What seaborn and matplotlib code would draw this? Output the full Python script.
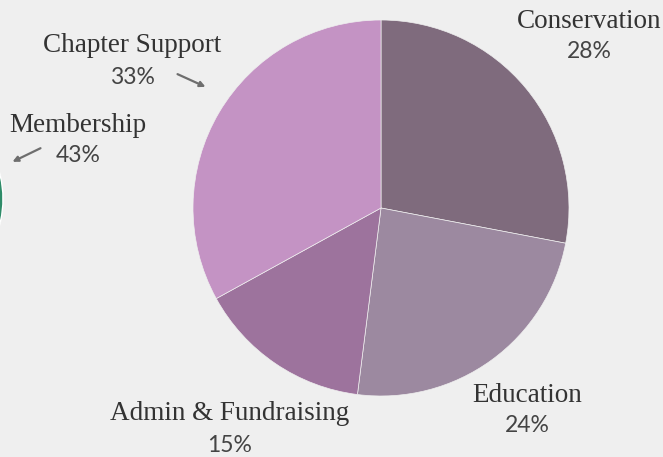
import seaborn as sns
import matplotlib.pyplot as plt

# main pie, clockwise from 12 o'clock
labels = ["Conservation", "Education", "Admin & Fundraising", "Chapter Support"]
values = [28, 24, 15, 33]
colors = ["#7f6b7d", "#9c89a0", "#9d739d", "#c493c4"]

# neighbouring pie, only its edge shows at the left border
other_label = "Membership"
other_value = 43
other_color = "#2e8b68"

sns.set_theme(style="white")
plt.rcParams['font.family'] = ['Liberation Serif', 'DejaVu Serif']

W, H = 663, 457
fig = plt.figure(figsize=(W / 100, H / 100), dpi=100, facecolor="#efefef")
ax = fig.add_axes([0, 0, 1, 1])
ax.set_facecolor("#efefef")

ax.pie(values, colors=colors, startangle=90, counterclock=False,
       center=(381, H - 208), radius=188, frame=True,
       wedgeprops=dict(edgecolor="#efefef", linewidth=0.5))
ax.pie([other_value, 100 - other_value], colors=[other_color, other_color],
       startangle=90, center=(-97, H - 199), radius=100, frame=True)

ax.set_xlim(0, W)
ax.set_ylim(0, H)
ax.set_aspect("equal")
ax.axis("off")

name_font = dict(family=['Liberation Serif', 'DejaVu Serif'], fontsize=19.5, color="#333333")
pct_font = dict(family=['Lato', 'DejaVu Sans'], fontsize=16.5, color="#444444", fontweight="normal")

# label name and percentage positions (pixel coords from top-left)
spots = {
    "Conservation": (589, 21, 51),
    "Education": (527, 396, 426),
    "Admin & Fundraising": (230, 414, 446),
    "Chapter Support": (132, 45, 78),
    "Membership": (78, 125, 156),
}
pcts = dict(zip(labels, values))
pcts[other_label] = other_value

for name, (x, y1, y2) in spots.items():
    ax.text(x, H - y1, name, ha="center", va="center", **name_font)
    ax.text(x, H - y2, f"{pcts[name]}%", ha="center", va="center", **pct_font)

arrow = dict(arrowstyle="-|>", color="#6e6e6e", lw=1.6, mutation_scale=8)
ax.annotate("", xy=(208, H - 88), xytext=(175, H - 73), arrowprops=arrow)
ax.annotate("", xy=(10, H - 163), xytext=(43, H - 147), arrowprops=arrow)

plt.savefig("out.png", dpi=100, facecolor="#efefef")
